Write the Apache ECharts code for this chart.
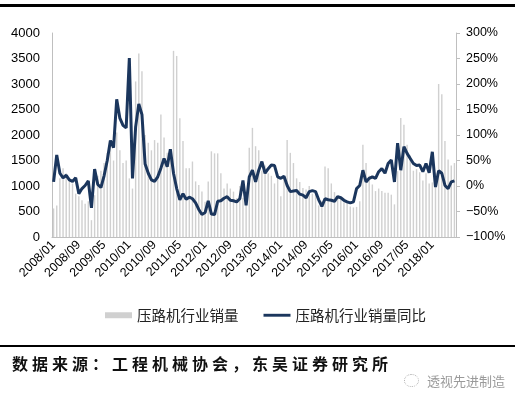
<!DOCTYPE html>
<html>
<head>
<meta charset="utf-8">
<script src="https://cdn.jsdelivr.net/npm/echarts/dist/echarts.min.js"></script>
<style>
  body { margin: 0; background: #fff; }
  #wrap { position: relative; width: 523px; height: 405px; overflow: hidden; }
  #main { width: 523px; height: 405px; }
  .source {
    position: absolute; left: 12px; top: 352px;
    font-family: "Noto Sans CJK SC"; font-weight: bold; font-size: 16px;
    letter-spacing: 4px; line-height: 22px; color: #111; white-space: nowrap;
  }
  .mark {
    position: absolute; left: 427px; top: 371px;
    font-family: "Noto Sans CJK SC"; font-size: 13px; line-height: 20px;
    color: #9a9a9a; white-space: nowrap;
  }
  .mark-icon {
    position: absolute; left: 404px; top: 374px; width: 13px; height: 11px;
    border: 1.5px dotted #aaa; border-radius: 50%;
  }
</style>
</head>
<body>
<div id="wrap">
  <div id="main"></div>
  <div class="source">数据来源：工程机械协会，东吴证券研究所</div>
  <div class="mark-icon"></div>
  <div class="mark">透视先进制造</div>
</div>
<script>
// 2008/01 - 2018/08，月度
var startYear = 2008;
var monthCount = 128;

// 压路机行业销量（台）
var sales = [
  560, 620, 1150, 1350, 1250, 1100, 1050, 850, 800, 720, 650, 700,
  330, 820, 1200, 1300, 1450, 1650, 1800, 1500, 2050, 1700, 1450, 1500,
  1150, 950, 3050, 3600, 3250, 2000, 1850, 1700, 1900, 1850, 2400, 1950,
  1650, 1550, 3650, 3550, 2330, 1880, 1350, 1350, 1480, 1090, 1020, 890,
  690, 1090, 1680, 1640, 1640, 1250, 950, 1050, 950, 890, 760, 1000,
  770, 680, 1750, 2140, 1780, 1700, 1300, 1400, 1250, 1200, 1050, 1150,
  800, 1200, 1900, 1650, 1450, 1150, 1080, 960, 930, 1000, 850, 830,
  620, 700, 1380, 1350, 1050, 880, 770, 740, 680, 690, 600, 580,
  590, 700, 1810, 1450, 1200, 1030, 900, 950, 900, 870, 870, 830,
  640, 1290, 2335, 2200, 1810, 1600, 1300, 1330, 1270, 1110, 1250, 1050,
  1070, 1260, 3000, 2800, 1880, 1520, 1400, 1450
];

// 压路机行业销量同比（%）
var yoy = [
  8, 61, 25, 16, 21, 12, 9, 16, -15, -5, 1, 10,
  -43, 33, 3, -3, 20, 50, 89, 75, 170, 133, 119, 114,
  251, 15, 116, 161, 140, 43, 25, 12, 9, 18, 35, 54,
  38, 72, 25, -5, -27, -15, -26, -22, -25, -33, -46, -56,
  -52, -29, -55, -56, -30, -29, -24, -21, -28, -29, -31, -25,
  11, -38, 18, 31, 8, 31, 48, 25, 34, 41, 40, 18,
  15, 19, 1, -11, -10, -9, -16, -18, -23, -11, -9, -11,
  -27, -40, -25, -27, -28, -30, -21, -23, -28, -31, -33, -31,
  -5, 1, 31, 8, 15, 18, 15, 28, 34, 25, 44, 51,
  8, 84, 31, 77, 64, 54, 44, 40, 41, 28, 44, 26,
  67, -2, 30, 25, 1, -5, 8, 10
];

var months = [];
for (var k = 0; k < monthCount; k++) {
  var y = startYear + Math.floor(k / 12);
  var m = (k % 12) + 1;
  months.push(y + "/" + (m < 10 ? "0" + m : m));
}

var myChart = echarts.init(document.getElementById("main"));
var option = {
  animation: false,
  grid: { left: 52, right: 67, top: 33, bottom: 168 },
  legend: {
    left: 100,
    top: 303,
    itemWidth: 27,
    itemHeight: 6,
    itemGap: 25,
    textStyle: { fontFamily: "Noto Sans CJK SC", fontSize: 14.5, color: "#222" },
    data: [
      { name: "压路机行业销量", icon: "rect" },
      { name: "压路机行业销量同比", icon: "path://M0,0H28V3H0Z" }
    ]
  },
  xAxis: {
    type: "category",
    data: months,
    boundaryGap: true,
    axisLine: { lineStyle: { color: "#bfbfbf" } },
    axisTick: { show: false },
    axisLabel: {
      interval: 7,
      rotate: 45,
      margin: 6,
      fontSize: 12.5,
      color: "#000",
      fontFamily: "Liberation Sans"
    }
  },
  yAxis: [
    {
      type: "value",
      min: 0,
      max: 4000,
      interval: 500,
      axisLine: { show: true, lineStyle: { color: "#bfbfbf" } },
      axisTick: { show: false },
      splitLine: { show: false },
      axisLabel: {
        margin: 12,
        fontSize: 13,
        color: "#000",
        fontFamily: "Liberation Sans",
        formatter: function (v) {
          return String(v);
        }
      }
    },
    {
      type: "value",
      position: "right",
      min: -100,
      max: 300,
      interval: 50,
      axisLine: { show: true, lineStyle: { color: "#bfbfbf" } },
      axisTick: { show: true, length: 4, lineStyle: { color: "#bfbfbf" } },
      splitLine: { show: false },
      axisLabel: {
        margin: 10,
        fontSize: 12.5,
        color: "#000",
        fontFamily: "Liberation Sans",
        formatter: function (v) {
          return String(v).replace("-", "\u2212") + "%";
        }
      }
    }
  ],
  series: [
    {
      name: "压路机行业销量",
      type: "bar",
      data: sales,
      barWidth: "45%",
      itemStyle: { color: "#d0d0d0" }
    },
    {
      name: "压路机行业销量同比",
      type: "line",
      yAxisIndex: 1,
      data: yoy,
      symbol: "none",
      z: 3,
      itemStyle: { color: "#1b365d" },
      lineStyle: { width: 3, color: "#1b365d" }
    }
  ],
  graphic: [
    { type: "rect", shape: { x: 0, y: 4, width: 515, height: 3 }, style: { fill: "#000" } },
    { type: "rect", shape: { x: 0, y: 345, width: 515, height: 2 }, style: { fill: "#000" } }
  ]
};
myChart.setOption(option);
</script>
</body>
</html>
